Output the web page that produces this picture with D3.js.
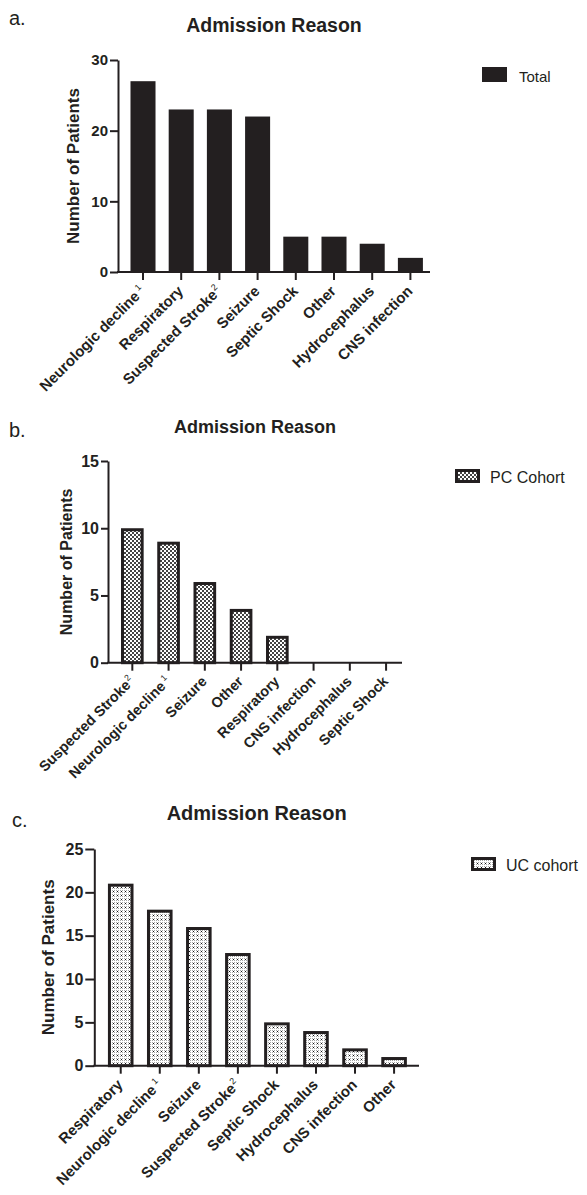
<!DOCTYPE html>
<html>
<head>
<meta charset="utf-8">
<script src="https://cdn.jsdelivr.net/npm/d3@7/dist/d3.min.js"></script>
<style>
  body { margin: 0; background: #fff; }
  svg { display: block; }
  text { font-family: "Liberation Sans", Arial, Helvetica, sans-serif; fill: #231f20; }
</style>
</head>
<body>
<svg id="chart" width="587" height="1195"></svg>
<script>
// ---- data ----
const totalCategories = ["Neurologic decline", "Respiratory", "Suspected Stroke", "Seizure",
  "Septic Shock", "Other", "Hydrocephalus", "CNS infection"];
const totalValues = [27, 23, 23, 22, 5, 5, 4, 2];

const pcCategories = ["Suspected Stroke", "Neurologic decline", "Seizure", "Other",
  "Respiratory", "CNS infection", "Hydrocephalus", "Septic Shock"];
const pcValues = [10, 9, 6, 4, 2, 0, 0, 0];

const ucCategories = ["Respiratory", "Neurologic decline", "Seizure", "Suspected Stroke",
  "Septic Shock", "Hydrocephalus", "CNS infection", "Other"];
const ucValues = [21, 18, 16, 13, 5, 4, 2, 1];

// footnote markers shown as superscripts after some category names
const footnotes = { "Neurologic decline": "1", "Suspected Stroke": "2" };

const totalTicks = [0, 10, 20, 30];
const pcTicks = [0, 5, 10, 15];
const ucTicks = [0, 5, 10, 15, 20, 25];

const panelLetters = ["a.", "b.", "c."];
const chartTitle = "Admission Reason";
const yAxisTitle = "Number of Patients";
const seriesNames = ["Total", "PC Cohort", "UC cohort"];

// ---- drawing ----
const ink = "#231f20";
const svg = d3.select("#chart");

// fill patterns for the cohort bars
const defs = svg.append("defs");
const checker = defs.append("pattern").attr("id", "checker")
  .attr("patternUnits", "userSpaceOnUse").attr("width", 4).attr("height", 4);
checker.append("rect").attr("width", 4).attr("height", 4).attr("fill", "#fff");
checker.append("rect").attr("x", 0).attr("y", 0).attr("width", 2).attr("height", 2).attr("fill", "#444");
checker.append("rect").attr("x", 2).attr("y", 2).attr("width", 2).attr("height", 2).attr("fill", "#444");

const dots = defs.append("pattern").attr("id", "dots")
  .attr("patternUnits", "userSpaceOnUse").attr("width", 4).attr("height", 4);
dots.append("rect").attr("width", 4).attr("height", 4).attr("fill", "#fff");
[[0, 0], [2, 2], [2, 0], [0, 2]].forEach(([px, py]) =>
  dots.append("rect").attr("x", px).attr("y", py).attr("width", 1).attr("height", 1).attr("fill", "#a8a8a8"));
dots.append("rect").attr("x", 1).attr("y", 3).attr("width", 1).attr("height", 1).attr("fill", "#111");

function drawPanel(cfg) {
  const g = svg.append("g");

  const x = d3.scaleBand().domain(cfg.categories)
    .range([cfg.bandStart, cfg.bandEnd])
    .paddingInner(cfg.padInner).paddingOuter(cfg.padInner / 2);
  const y = d3.scaleLinear().domain([0, cfg.yMax]).range([cfg.yBottom, cfg.yTop]);

  // panel letter and title (title centred over the plot area)
  g.append("text").attr("x", cfg.letterX).attr("y", cfg.letterY)
    .attr("font-size", 20).text(cfg.letter);
  g.append("text").attr("x", (cfg.axisX + cfg.axisEnd) / 2).attr("y", cfg.titleY)
    .attr("text-anchor", "middle").attr("font-size", cfg.titleSize).attr("font-weight", "bold")
    .text(chartTitle);

  // bars
  const sw = cfg.strokeWidth;
  g.selectAll("rect.bar").data(cfg.values.map((v, i) => ({ c: cfg.categories[i], v })))
    .join("rect").attr("class", "bar")
    .filter(d => d.v > 0)
    .attr("x", d => x(d.c) + sw / 2)
    .attr("width", x.bandwidth() - sw)
    .attr("y", d => y(d.v) + sw / 2)
    .attr("height", d => y(0) - y(d.v) - sw / 2)
    .attr("fill", cfg.fill)
    .attr("stroke", sw > 0 ? ink : "none")
    .attr("stroke-width", sw);

  // y axis
  const yAxis = g.append("g").attr("transform", `translate(${cfg.axisX},0)`)
    .call(d3.axisLeft(y).tickValues(cfg.ticks).tickSize(cfg.tickLen).tickSizeOuter(0).tickPadding(2));
  yAxis.select(".domain").attr("stroke", ink).attr("stroke-width", 2);
  yAxis.selectAll(".tick line").attr("stroke", ink).attr("stroke-width", 2);
  yAxis.selectAll(".tick text").attr("font-size", cfg.tickSize).attr("font-weight", "bold")
    .attr("fill", ink).attr("font-family", "Liberation Sans, Arial, sans-serif");

  // x axis
  const xAxis = g.append("g").attr("transform", `translate(0,${cfg.yBottom})`)
    .call(d3.axisBottom(x).tickSize(8).tickSizeOuter(0).tickFormat(""));
  xAxis.select(".domain").remove();
  xAxis.selectAll(".tick line").attr("stroke", ink).attr("stroke-width", 2);
  xAxis.append("line").attr("x1", cfg.axisX - 1).attr("x2", cfg.axisEnd)
    .attr("stroke", ink).attr("stroke-width", 2);

  // rotated category labels with superscript footnotes
  xAxis.selectAll(".tick").each(function (c) {
    const t = d3.select(this).append("text")
      .attr("transform", `translate(${cfg.labelDx},${cfg.labelDy}) rotate(-45)`)
      .attr("text-anchor", "end").attr("font-size", cfg.labelSize).attr("font-weight", "bold")
      .attr("fill", ink);
    t.append("tspan").text(c);
    if (footnotes[c]) {
      t.append("tspan").attr("dx", c === "Neurologic decline" ? 2.5 : 0.5).attr("dy", -6)
        .attr("font-size", cfg.labelSize * 0.6).attr("font-weight", "normal").text(footnotes[c]);
    }
  });

  // y axis title
  g.append("text")
    .attr("transform", `translate(${cfg.yTitleX},${(cfg.yTop + cfg.yBottom) / 2}) rotate(-90)`)
    .attr("text-anchor", "middle").attr("font-size", cfg.yTitleSize).attr("font-weight", "bold")
    .text(yAxisTitle);

  // legend, placed to the right of the plot near its top
  g.append("rect").attr("x", cfg.legendX + sw / 2).attr("y", cfg.legendY + sw / 2)
    .attr("width", cfg.legendW - sw).attr("height", cfg.legendH - sw)
    .attr("fill", cfg.fill).attr("stroke", sw > 0 ? ink : "none").attr("stroke-width", sw);
  g.append("text").attr("x", cfg.legendX + cfg.legendW + cfg.legendGap).attr("y", cfg.legendY + cfg.legendH)
    .attr("font-size", cfg.legendSize).text(cfg.series);
}

drawPanel({
  letter: panelLetters[0], letterX: 9, letterY: 25,
  titleY: 32, titleSize: 19.5,
  categories: totalCategories, values: totalValues, ticks: totalTicks, yMax: 30,
  bandStart: 123.9, bandEnd: 429.5, padInner: 0.345,
  yTop: 60, yBottom: 272, axisX: 118, axisEnd: 430,
  fill: ink, strokeWidth: 0,
  tickSize: 15, tickLen: 8, labelSize: 15, labelDx: 3, labelDy: 20,
  yTitleX: 79, yTitleSize: 17,
  legendX: 482, legendY: 67, legendW: 25, legendH: 15, legendGap: 12, legendSize: 15,
  series: seriesNames[0]
});

drawPanel({
  letter: panelLetters[1], letterX: 9, letterY: 437,
  titleY: 433, titleSize: 18,
  categories: pcCategories, values: pcValues, ticks: pcTicks, yMax: 15,
  bandStart: 114.2, bandEnd: 404.2, padInner: 0.375,
  yTop: 461, yBottom: 662.7, axisX: 108, axisEnd: 402,
  fill: "url(#checker)", strokeWidth: 3,
  tickSize: 16, tickLen: 7, labelSize: 14.5, labelDx: 3, labelDy: 19.5,
  yTitleX: 72, yTitleSize: 16,
  legendX: 455, legendY: 469, legendW: 25, legendH: 14, legendGap: 10, legendSize: 16,
  series: seriesNames[1]
});

drawPanel({
  letter: panelLetters[2], letterX: 12, letterY: 827,
  titleY: 820, titleSize: 20,
  categories: ucCategories, values: ucValues, ticks: ucTicks, yMax: 25,
  bandStart: 101.2, bandEnd: 413.6, padInner: 0.345,
  yTop: 849, yBottom: 1065.7, axisX: 94.3, axisEnd: 419,
  fill: "url(#dots)", strokeWidth: 3,
  tickSize: 16, tickLen: 9, labelSize: 15, labelDx: 3, labelDy: 20,
  yTitleX: 54, yTitleSize: 17,
  legendX: 471, legendY: 857, legendW: 25, legendH: 14, legendGap: 10, legendSize: 16,
  series: seriesNames[2]
});
</script>
</body>
</html>
